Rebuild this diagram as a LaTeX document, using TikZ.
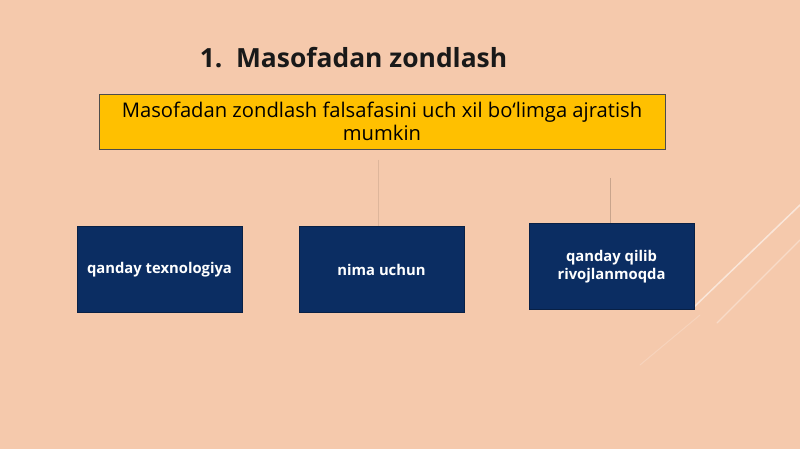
\documentclass[tikz,border=0pt]{standalone}
\usepackage{fontspec}
\setmainfont{Open Sans}
\definecolor{bgpeach}{HTML}{F5C9AC}
\definecolor{navy}{HTML}{0B2D62}
\definecolor{gold}{HTML}{FFC000}
\definecolor{linec}{HTML}{C9A48C}
\tikzset{
  x=1pt,y=-1pt,
  navybox/.style={draw=navy!70!black, line width=0.6pt, fill=navy, text=white, font=\fontsize{14.8}{18.5}\selectfont\bfseries, align=center, minimum width=165pt, minimum height=86pt, inner sep=2pt},
  goldbox/.style={draw=black!70, line width=0.8pt, fill=gold, font=\fontsize{20.2}{23}\selectfont, align=center, minimum width=566pt, minimum height=55pt, inner sep=0pt},
  conn/.style={draw=linec, line width=0.8pt},
  streak/.style={draw=white, line cap=round}
}
\begin{document}
\begin{tikzpicture}
\fill[bgpeach] (0,0) rectangle (800,449);
\useasboundingbox (0,0) rectangle (800,449);
% streaks
\draw[streak, opacity=0.55, line width=1.5pt] (694,307) -- (800,205);
\draw[streak, opacity=0.35, line width=1.2pt] (717,323) -- (800,240);
\draw[streak, opacity=0.2, line width=1pt] (640,365) -- (700,315);
\node[font=\fontsize{26.4}{30}\selectfont\bfseries, text=black!90] (title) at (353.5,58) {1.\ \ Masofadan zondlash};
\node[goldbox] (top) at (382,121.5) {Masofadan zondlash falsafasini uch xil bo‘limga ajratish\\mumkin};
\node[navybox] (b1) at (159.5,269.5) {qanday texnologiya};
\node[navybox] (b2) at (381.5,269.5) {nima uchun};
\node[navybox] (b3) at (611.5,266.5) {qanday qilib\\rivojlanmoqda};
\coordinate (c1) at (378,160);
\coordinate (c3) at (610.5,178);
\draw[conn, opacity=0.5] (c1) -- (c1 |- b2.north);
\draw[conn] (c3) -- (b3.north -| c3);
\end{tikzpicture}
\end{document}
